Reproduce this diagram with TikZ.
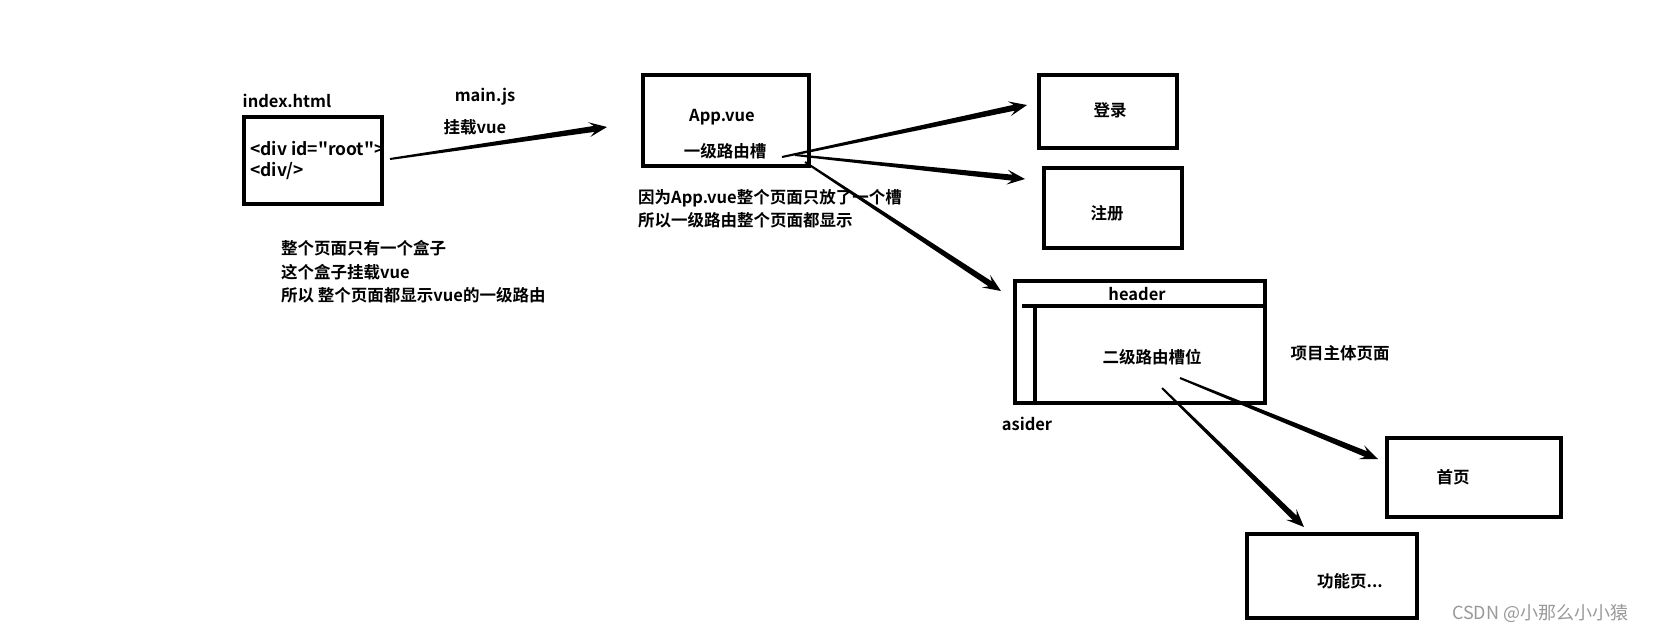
\documentclass[tikz,border=0pt]{standalone}
\usepackage{fontspec}
\setmainfont{Noto Sans CJK SC}[BoldFont={Noto Sans CJK SC Bold},Ligatures=TeXOff]
\usetikzlibrary{calc}
\newcommand\tarr[2]{%
  \coordinate (tb) at ($(#2)!13pt!(#1)$);
  \coordinate (tw) at ($(#2)!18pt!(#1)$);
  \fill[black] ($(#1)!1pt!90:(#2)$) -- ($(tb)!3pt!90:(#2)$) -- ($(tw)!7.5pt!90:(#2)$) -- (#2)
    -- ($(tw)!7.5pt!-90:(#2)$) -- ($(tb)!3pt!-90:(#2)$) -- ($(#1)!1pt!-90:(#2)$) -- cycle;}
\begin{document}
\begin{tikzpicture}[x=1pt,y=-1pt,
  box/.style={draw=black,line width=3.2pt,minimum width=#1,inner sep=0pt},
  lbl/.style={inner sep=0pt,font=\bfseries\fontsize{16.5}{23.5}\selectfont},
  ml/.style={lbl,align=left,anchor=west},
  ln/.style={line width=3.2pt}]
\useasboundingbox[fill=white] (0,0) rectangle (1658,633);

% index.html
\node[lbl] (idxlbl) at (287,101) {index.html};
\node[box=138pt,minimum height=87pt] (idx) at (313,160.5) {};
\node[ml,font=\bfseries\fontsize{17.5}{21}\selectfont] (idxtxt) at (250,160.5) {<div id="root">\\<div/>};
\node[lbl] (mainjs) at (485,97) {main.js};
\node[lbl] (mount) at (475,127) {挂载vue};
\node[ml] (note1) at (281,272) {整个页面只有一个盒子\\这个盒子挂载vue\\所以 整个页面都显示vue的一级路由};

% App.vue
\node[box=166pt,minimum height=91pt] (app) at (726,120.5) {};
\node[lbl] (apptxt) at (722,117) {App.vue};
\node[lbl] (slot1) at (725,151) {一级路由槽};
\node[ml] (note2) at (638,208.5) {因为App.vue整个页面只放了一个槽\\所以一级路由整个页面都显示};

% login / register
\node[box=138pt,minimum height=73pt] (login) at (1108,111.5) {};
\node[lbl] (logintxt) at (1110,110) {登录};
\node[box=138pt,minimum height=80pt] (reg) at (1113,208) {};
\node[lbl] (regtxt) at (1107,213) {注册};

% main layout
\node[box=250pt,minimum height=122pt] (layout) at (1140,342) {};
\coordinate (hl) at (1022,306);
\coordinate (hr) at (layout.east |- hl);
\draw[ln] (hl) -- (hr);
\coordinate (at) at (1035,306);
\coordinate (ab) at (1035,405);
\draw[ln] (at) -- (ab);
\node[lbl] (header) at (1137,294) {header};
\node[lbl] (slot2) at (1152,357) {二级路由槽位};
\node[lbl] (mainpg) at (1340,353) {项目主体页面};
\node[lbl] (aside) at (1027,424) {asider};

% home / feature
\node[box=174pt,minimum height=79pt] (home) at (1474,477.5) {};
\node[lbl] (hometxt) at (1453,477) {首页};
\node[box=170pt,minimum height=84pt] (feat) at (1332,576) {};
\node[lbl] (feattxt) at (1350,581) {功能页...};

% arrows
\coordinate (s1) at (390,159); \coordinate (e1) at (607,127);
\coordinate (s2) at (782,157); \coordinate (e2) at (1027,105);
\coordinate (s3) at (795,155); \coordinate (e3) at (1025,179);
\coordinate (s4) at (805,162); \coordinate (e4) at (1001,291);
\coordinate (s5) at (1180,378); \coordinate (e5) at (1378,459);
\coordinate (s6) at (1162,388); \coordinate (e6) at (1304,527);
\tarr{s1}{e1}
\tarr{s2}{e2}
\tarr{s3}{e3}
\tarr{s4}{e4}
\tarr{s5}{e5}
\tarr{s6}{e6}

\node[inner sep=0pt,anchor=west,text=black!40,font=\fontsize{18}{20}\selectfont] (wm) at (1452,613) {CSDN @小那么小小猿};
\end{tikzpicture}
\end{document}
